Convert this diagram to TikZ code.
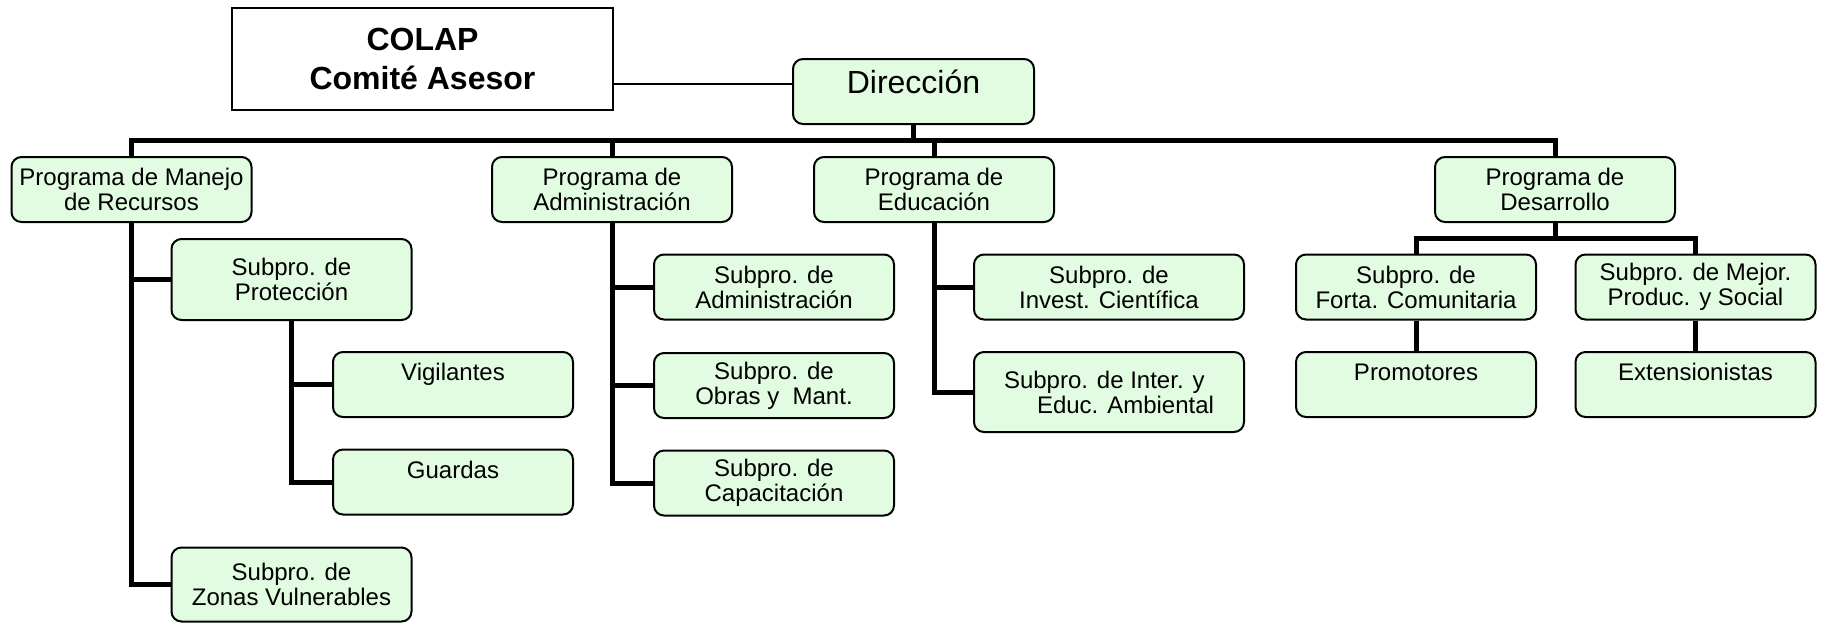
\documentclass[tikz,border=0pt]{standalone}
\usepackage{fontspec}
\setmainfont{Liberation Sans}
\usetikzlibrary{calc}
\definecolor{boxgreen}{RGB}{226,252,226}

\begin{document}
\begin{tikzpicture}[x=0.5pt, y=-0.5pt, tie/.style={line width=2.5pt}]
 \useasboundingbox (0,0) rectangle (1821,623);
 \begin{scope}[every node/.style={draw, line width=1pt, fill=boxgreen, rounded corners=5pt,
     minimum width=120pt, minimum height=32.5pt, inner sep=2pt, align=center,
     font=\fontsize{12}{12.5}\selectfont}]
   \node (colap) [fill=white, sharp corners, line width=0.8pt, minimum width=190.5pt, minimum height=51pt,
     font=\fontsize{16}{19.5}\selectfont\bfseries] at (422.5,59) {COLAP\\Comité Asesor};
   \node (dir) [minimum width=120.5pt, font=\fontsize{16}{19}\selectfont,
     text height=12pt, text depth=10.5pt] at (913.5,91.5) {Dirección};
   \node (pmr) at (131.5,189.5) {Programa de Manejo\\de Recursos};
   \node (padm) at (612,189.5) {Programa de\\Administración};
   \node (pedu) at (934,189.5) {Programa de\\Educación};
   \node (pdes) at (1555,189.5) {Programa de\\Desarrollo};
   \node (prot) [minimum height=40.5pt] at (291.5,279.5) {Subpro. de\\Protección};
   \node (vig) at (453,384.5) {Vigilantes\\~};
   \node (gua) at (453,482) {Guardas\\~};
   \node (zon) [minimum height=37pt] at (291.5,584.5) {Subpro. de\\Zonas Vulnerables};
   \node (sadm) at (774,287) {Subpro. de\\Administración};
   \node (obr) at (774,385.5) {Subpro. de\\Obras y~ Mant.};
   \node (capa) at (774,483) {Subpro. de\\Capacitación};
   \node (inv) [minimum width=135pt] at (1109,287) {Subpro. de\\Invest. Científica};
   \node (int) [minimum width=135pt, minimum height=40pt, align=left] at (1109,392)
     {Subpro. de Inter. y\\\hspace*{16.5pt}Educ. Ambiental};
   \node (fort) at (1416,287) {Subpro. de\\Forta. Comunitaria};
   \node (mej) at (1695.5,287) {Subpro. de Mejor.\\Produc. y Social};
   \node (prom) at (1416,384.5) {Promotores\\~};
   \node (ext) at (1695.5,384.5) {Extensionistas\\~};
 \end{scope}
 \coordinate (bus) at (0,140);
 \coordinate (split) at (1555,238);
 \coordinate (dirjoin) at ($(dir.west)+(0,-7.5)$);
 \draw [line width=0.75pt] (colap.east |- dirjoin) -- (dirjoin);
 \draw [tie] (pmr.north) |- (bus -| pdes.north) -- (pdes.north);
 \foreach \n in {dir.south, padm.north, pedu.north}
   \draw [tie] (\n) -- (bus -| \n);
 \draw [tie] (pmr.south) |- (zon.west);
 \draw [tie] (pmr.south |- prot.west) -- (prot.west);
 \draw [tie] (prot.south) |- (gua.west);
 \draw [tie] (prot.south |- vig.west) -- (vig.west);
 \draw [tie] (padm.south) |- (capa.west);
 \foreach \n in {sadm, obr}
   \draw [tie] (padm.south |- \n.west) -- (\n.west);
 \draw [tie] (pedu.south) |- (int.west);
 \draw [tie] (pedu.south |- inv.west) -- (inv.west);
 \draw [tie] (pdes.south) -- (split);
 \draw [tie] (fort.north) |- (split) -| (mej.north);
 \draw [tie] (fort) -- (prom);
 \draw [tie] (mej) -- (ext);
\end{tikzpicture}
\end{document}
